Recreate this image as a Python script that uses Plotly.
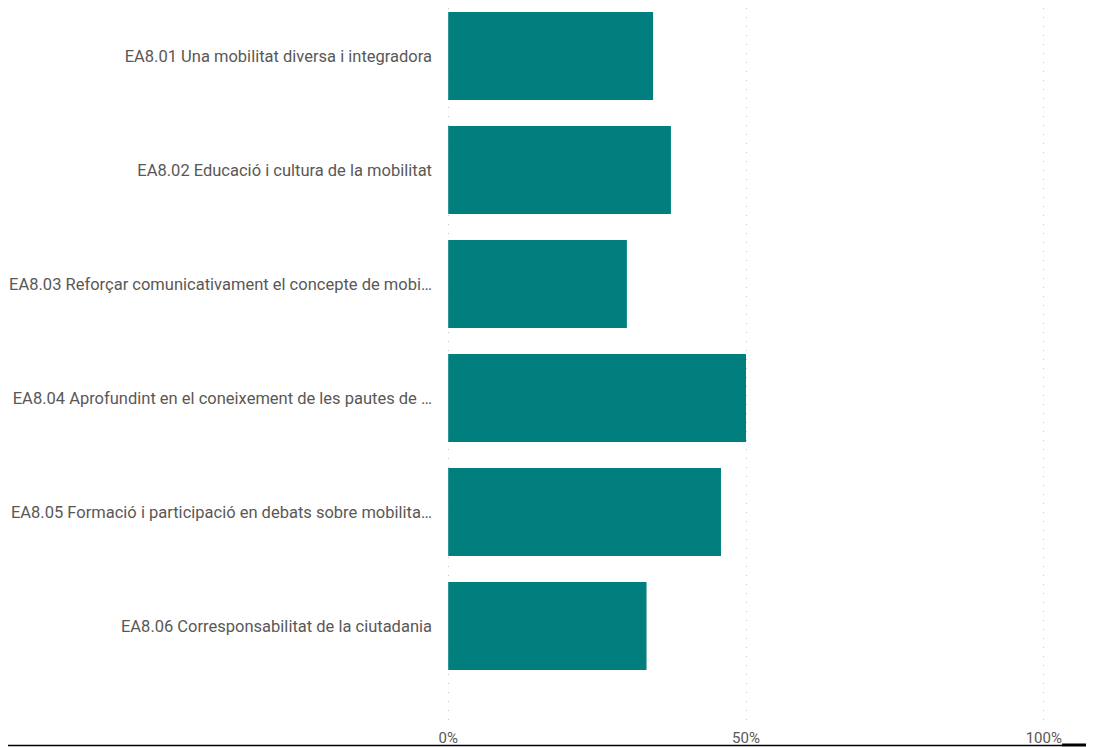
import plotly.graph_objects as go

categories = [
    "EA8.01 Una mobilitat diversa i integradora",
    "EA8.02 Educació i cultura de la mobilitat",
    "EA8.03 Reforçar comunicativament el concepte de mobi…",
    "EA8.04 Aprofundint en el coneixement de les pautes de …",
    "EA8.05 Formació i participació en debats sobre mobilita…",
    "EA8.06 Corresponsabilitat de la ciutadania",
]
values = [34.4, 37.4, 30.0, 50.0, 45.8, 33.3]
x_ticks = [0, 50, 100]
x_tick_labels = ["0%", "50%", "100%"]

# page body adds an 8px offset; all figure coordinates below are page - 8
OFF = 8
W, H = 1094, 747
px_per_pct = 5.96
pad_pct = 0.2
x0_px = 448 - OFF
plot_l = round(x0_px - pad_pct * px_per_pct)
plot_w = round((100 + 2 * pad_pct) * px_per_pct)
plot_top, plot_bottom = 0, 722 - OFF
slot = 114.0
first_center = 56.0 - OFF
plot_h = plot_bottom - plot_top
ymin = -(first_center - plot_top) / slot
ymax = ymin + plot_h / slot

fig = go.Figure(go.Bar(
    y=list(range(len(categories))),
    x=values,
    orientation="h",
    width=88 / slot,
    marker=dict(color="#017f7f", line=dict(width=0)),
    hoverinfo="x+y",
))

text_color = "#5a5856"
fig.update_layout(
    width=W, height=H,
    margin=dict(l=plot_l, r=W - plot_l - plot_w, t=plot_top, b=H - plot_bottom, pad=0),
    paper_bgcolor="white", plot_bgcolor="white",
    showlegend=False,
    font=dict(family="Roboto, 'Noto Sans', sans-serif", color=text_color, size=16),
    xaxis=dict(
        range=[-pad_pct, 100 + pad_pct], tickvals=x_ticks, ticktext=x_tick_labels,
        showgrid=True, gridcolor="#c8c8c8", griddash="1px,8px", gridwidth=1,
        zeroline=False, showline=False, ticks="", fixedrange=True,
        tickfont=dict(size=15, color=text_color),
        ticklabelstandoff=5,
    ),
    yaxis=dict(
        range=[ymax, ymin],
        tickvals=list(range(len(categories))), ticktext=categories,
        showgrid=False, zeroline=False, showline=False, ticks="",
        tickfont=dict(size=16.5, color=text_color),
        ticklabelstandoff=14,
    ),
)

def px_x(p):
    return (p - plot_l) / plot_w

def px_y(p):
    return (plot_bottom - p) / plot_h

fig.add_shape(type="line", xref="paper", yref="paper",
              x0=px_x(0), x1=px_x(1062 - OFF), y0=px_y(745.5 - OFF), y1=px_y(745.5 - OFF),
              line=dict(color="black", width=1.5))
fig.add_shape(type="line", xref="paper", yref="paper",
              x0=px_x(1062 - OFF), x1=px_x(W), y0=px_y(745 - OFF), y1=px_y(745 - OFF),
              line=dict(color="black", width=3))

fig.write_html("out.html")
